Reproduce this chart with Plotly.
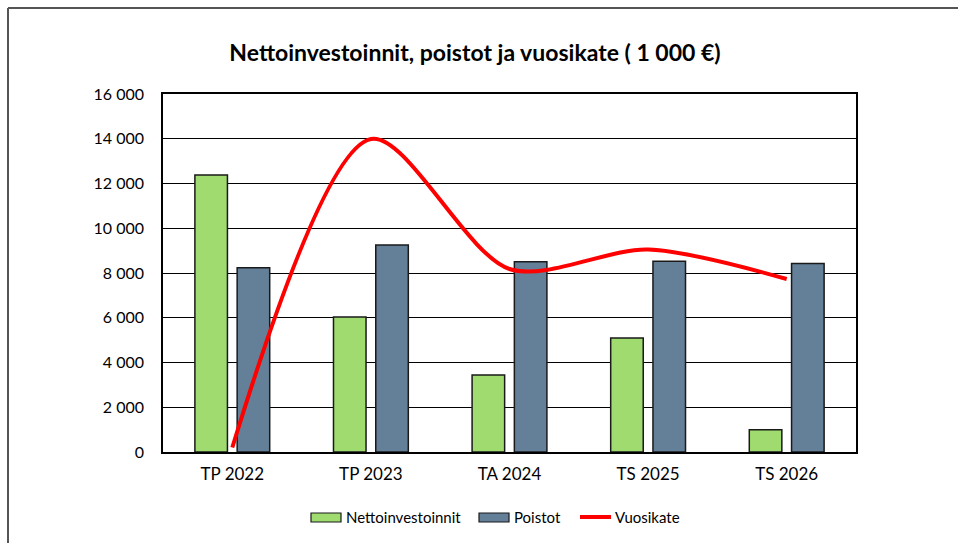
import plotly.graph_objects as go

# values (1 000 €)
categories = ["TP 2022", "TP 2023", "TA 2024", "TS 2025", "TS 2026"]
nettoinvestoinnit = [12380, 6030, 3440, 5100, 1000]
poistot = [8240, 9250, 8500, 8520, 8430]
vuosikate = [200, 13990, 8180, 9050, 7730]

W, H = 958, 543
L, R, T, B = 163, 856, 94, 452  # plot area in pixels
FONT = "Lato"
GREEN, BLUE, RED = "#9FDB6F", "#647F98", "#FF0000"
EDGE = "#1a1a1a"

fig = go.Figure()
fig.add_trace(go.Bar(
    x=categories, y=nettoinvestoinnit, name="Nettoinvestoinnit",
    marker=dict(color=GREEN, line=dict(color=EDGE, width=1.5)),
))
fig.add_trace(go.Bar(
    x=categories, y=poistot, name="Poistot",
    marker=dict(color=BLUE, line=dict(color=EDGE, width=1.5)),
))
fig.add_trace(go.Scatter(
    x=categories, y=vuosikate, name="Vuosikate", mode="lines",
    line=dict(color=RED, width=4, shape="spline", smoothing=0.85),
))


def px(x):
    return (x - L) / (R - L)


def py(y):
    return (B - y) / (B - T)


# outer chart frame (only top and left edges are visible)
fig.add_shape(type="line", xref="paper", yref="paper",
              x0=px(8), x1=px(W), y0=py(8), y1=py(8),
              line=dict(color="#555555", width=2))
fig.add_shape(type="line", xref="paper", yref="paper",
              x0=px(8), x1=px(8), y0=py(8), y1=py(H),
              line=dict(color="#555555", width=2))

# legend drawn by hand so the swatches look like the original
legend_y = 517
fig.add_shape(type="rect", xref="paper", yref="paper",
              x0=px(311), x1=px(341), y0=py(522), y1=py(513),
              fillcolor=GREEN, line=dict(color=EDGE, width=1.2))
fig.add_shape(type="rect", xref="paper", yref="paper",
              x0=px(479), x1=px(509), y0=py(522), y1=py(513),
              fillcolor=BLUE, line=dict(color=EDGE, width=1.2))
fig.add_shape(type="line", xref="paper", yref="paper",
              x0=px(580), x1=px(611), y0=py(legend_y), y1=py(legend_y),
              line=dict(color=RED, width=4))
for text, x in [("Nettoinvestoinnit", 344), ("Poistot", 512), ("Vuosikate", 613)]:
    fig.add_annotation(text=text, xref="paper", yref="paper",
                       x=px(x), y=py(legend_y), xanchor="left", yanchor="middle",
                       showarrow=False, font=dict(family=FONT, size=15, color="black"))

fig.update_layout(
    width=W, height=H,
    margin=dict(l=L, r=W - R, t=T, b=H - B),
    paper_bgcolor="white", plot_bgcolor="white",
    font=dict(family=FONT, size=16, color="black"),
    separators=", ",
    barmode="group", bargap=0.39, bargroupgap=0.23,
    title=dict(text="<b>Nettoinvestoinnit, poistot ja vuosikate ( 1 000 €)</b>",
               x=475 / W, xanchor="center", xref="container",
               y=1 - 53 / H, yanchor="middle", yref="container",
               font=dict(family=FONT, size=23, color="black")),
    showlegend=False,
)
fig.update_yaxes(range=[0, 16000], dtick=2000, tickformat=",d",
                 showgrid=True, gridcolor="black", gridwidth=1.2,
                 showline=True, linecolor="black", linewidth=1.5, mirror=True,
                 zeroline=False, ticks="", ticklabelstandoff=14,
                 tickfont=dict(family=FONT, size=16))
fig.update_xaxes(showline=True, linecolor="black", linewidth=1.5, mirror=True,
                 ticks="", ticklabelstandoff=6,
                 tickfont=dict(family=FONT, size=17))

fig.write_html(
    "out.html", config={"displayModeBar": False},
    post_script="document.body.style.margin='0';"
                "document.body.style.overflow='hidden';"
                "document.documentElement.style.overflow='hidden';",
)
